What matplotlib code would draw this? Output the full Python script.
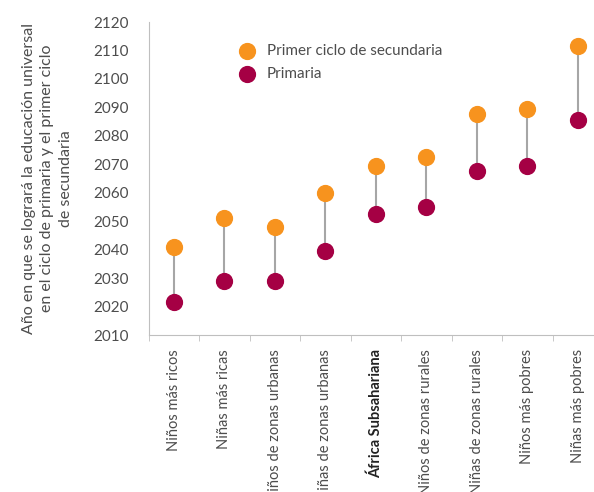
import matplotlib
matplotlib.use('Agg')
import matplotlib.pyplot as plt
import numpy as np

plt.rcParams['font.family'] = ['Lato', 'DejaVu Sans']

# Datos
categorias = ['Niños más ricos', 'Niñas más ricas', 'Niños de zonas urbanas',
              'Niñas de zonas urbanas', 'África Subsahariana', 'Niños de zonas rurales',
              'Niñas de zonas rurales', 'Niños más pobres', 'Niñas más pobres']
secundaria = [2041, 2051, 2048, 2060, 2069.5, 2072.5, 2087.5, 2089.5, 2111.5]
primaria = [2021.5, 2029, 2029, 2039.5, 2052.5, 2055, 2067.5, 2069.5, 2085.5]

naranja = '#F7931E'
morado = '#A50044'
gris = '#A6A6A6'
texto = '#4D4D4D'

fig = plt.figure(figsize=(5.94, 4.92), dpi=100)
ax = fig.add_axes([148.5 / 594, 1 - 335 / 492, 454.5 / 594, (335 - 22) / 492])

x = np.arange(len(categorias))
ax.vlines(x, primaria, secundaria, color=gris, linewidth=1.5, zorder=1)
ax.scatter(x, secundaria, s=130, color=naranja, zorder=3, label='Primer ciclo de secundaria')
ax.scatter(x, primaria, s=130, color=morado, zorder=3, label='Primaria')

ax.set_ylim(2010, 2120)
ax.set_yticks(np.arange(2010, 2121, 10))
ax.set_xlim(-0.5, 8.5)
ax.set_xticks(x)
ax.set_xticklabels(categorias, rotation=90, fontsize=10.5, color=texto, va='top')
ax.get_xticklabels()[4].set_fontweight('bold')
ax.get_xticklabels()[4].set_color('#222222')
ax.set_xticks(np.arange(-0.5, 9, 1), minor=True)
ax.tick_params(axis='x', which='major', length=0, pad=10)
ax.tick_params(axis='x', which='minor', length=4, color='#BFBFBF')
ax.tick_params(axis='y', length=0, labelsize=11, labelcolor=texto, pad=14)

for lado in ['top', 'right']:
    ax.spines[lado].set_visible(False)
for lado in ['left', 'bottom']:
    ax.spines[lado].set_color('#BFBFBF')

ax.set_ylabel('Año en que se logrará la educación universal\nen el ciclo de primaria y el primer ciclo\nde secundaria',
              fontsize=11.5, color=texto, linespacing=1.4, labelpad=15)

ax.legend(loc='upper left', bbox_to_anchor=(0.17, 0.95), frameon=False,
          prop={'size': 11},
          labelcolor=texto, handletextpad=0.3, labelspacing=0.6, borderaxespad=0)

plt.savefig('out.png', dpi=100)
